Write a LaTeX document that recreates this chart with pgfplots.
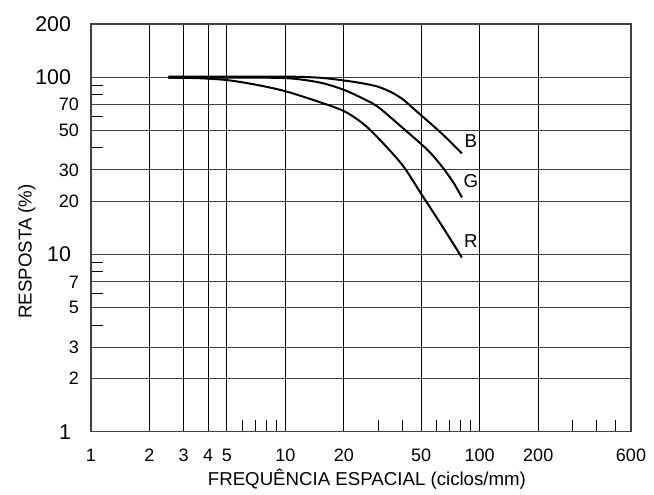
\documentclass[border=0pt]{standalone}
\usepackage{fontspec}
\setmainfont{Liberation Sans}
\usepackage{pgfplots}
\pgfplotsset{compat=1.18}
\newcommand{\BigLab}[1]{{\fontsize{16}{16}\selectfont #1\rule{6pt}{0pt}}}
\begin{document}
\begin{tikzpicture}
\begin{axis}[
  scale only axis, width=405pt, height=305.8pt,
  xmode=log, ymode=log, xmin=1, xmax=600, ymin=1, ymax=200,
  xtick={1,2,3,4,5,10,20,50,100,200,600},
  xticklabels={1,2,3,4,5,10,20,50,100,200,600},
  ytick={1,2,3,5,7,10,20,30,50,70,100,200},
  yticklabels={\BigLab{1},2,3,5,7,\BigLab{10},20,30,50,70,\BigLab{100},\BigLab{200}},
  minor xtick={6,7,8,9,30,40,60,70,80,90,300,400,500},
  minor ytick={4,6,8,9,40,60,80,90},
  grid=major,
  major x grid style={black, line width=0.75pt},
  major y grid style={black!75, line width=0.75pt},
  major tick length=0pt, minor tick length=9pt,
  tick align=inside, xtick pos=bottom, ytick pos=left,
  minor tick style={black, line width=0.75pt},
  axis line style={black!75, line width=0.8pt},
  ticklabel style={font=\fontsize{13.5}{13.5}\selectfont},
  yticklabel style={xshift=-5.5pt},
  xticklabel style={yshift=-9.4pt},
  clip=false,
]
\addplot[black, line width=1.5pt, smooth] coordinates {
 (2.5,101) (5,100.8) (10,101) (15,99.5) (20,96) (25,92.5) (30,88.5) (35,82.5) (40,75.5) (45,67.5) (50,61) (64,48) (81,37.2)};
\addplot[black, line width=1.5pt, smooth] coordinates {
 (2.5,99.5) (5,99.5) (10,99) (15,93.5) (20,85) (25,76) (30,68) (40,52) (50,42) (57,36.5) (66,30) (74,25) (81,21)};
\addplot[black, line width=1.5pt, smooth] coordinates {
 (2.5,99.5) (3.5,99) (5,96.5) (7,91) (10,83.5) (15,72.5) (20,64.5) (25,55) (30,45.5) (40,32) (50,22) (64,14.5) (81,9.6)};
\node[font=\fontsize{14}{14}\selectfont] at (axis cs:90,43.5) {B};
\node[font=\fontsize{14}{14}\selectfont] at (axis cs:90,26) {G};
\node[font=\fontsize{14}{14}\selectfont] at (axis cs:90,11.9) {R};
\node[font=\fontsize{14}{14}\selectfont, anchor=base] at (rel axis cs:0.511,0) [yshift=-40pt] {FREQUÊNCIA ESPACIAL (ciclos/mm)};
\node[font=\fontsize{14}{14}\selectfont, anchor=base, rotate=90] at (rel axis cs:-0.1099,0.442) {RESPOSTA (\%)};
\end{axis}
\pgfresetboundingbox
\path[use as bounding box] (-68.25pt,-46.7pt) rectangle (422.25pt,323.8pt);
\end{tikzpicture}
\end{document}
